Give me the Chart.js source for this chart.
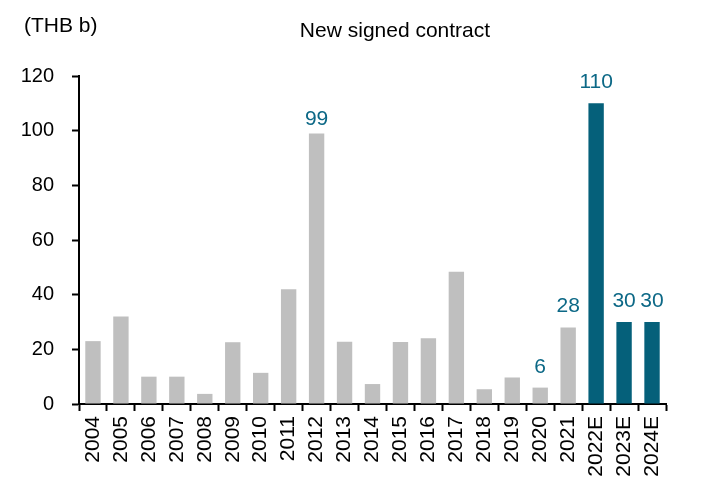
<!DOCTYPE html>
<html>
<head>
<meta charset="utf-8">
<script src="https://cdn.jsdelivr.net/npm/chart.js@4/dist/chart.umd.min.js"></script>
<style>
  html, body { margin: 0; padding: 0; background: #fff; }
  #wrap { width: 707px; height: 477px; }
</style>
</head>
<body>
<div id="wrap"><canvas id="grafico" width="707" height="477"></canvas></div>
<script>
// dados do gráfico
const anos = ['2004', '2005', '2006', '2007', '2008', '2009', '2010', '2011', '2012', '2013', '2014',
              '2015', '2016', '2017', '2018', '2019', '2020', '2021', '2022E', '2023E', '2024E'];
const contratos = [23, 32, 10, 10, 3.7, 22.6, 11.4, 42, 99, 22.8, 7.3,
                   22.7, 24.1, 48.4, 5.4, 9.7, 6, 28, 110, 30, 30];
const estimativa = [false, false, false, false, false, false, false, false, false, false, false,
                    false, false, false, false, false, false, false, true, true, true];
const mostrarRotulo = ['2012', '2020', '2021', '2022E', '2023E', '2024E'];
const ticksY = [0, 20, 40, 60, 80, 100, 120];

const FONTE = "'Liberation Sans', Arial, sans-serif";
const CINZA = '#bfbfbf';
const AZUL = '#05607a';
const AZUL_TEXTO = '#0c6886';

// rótulos de valor e textos fixos (título, unidade)
const pluginTextos = {
    id: 'textos',
    afterDatasetsDraw(chart) {
        const ctx = chart.ctx;
        const meta = chart.getDatasetMeta(0);
        ctx.save();
        ctx.font = '21px ' + FONTE;
        ctx.fillStyle = AZUL_TEXTO;
        ctx.textAlign = 'center';
        ctx.textBaseline = 'alphabetic';
        meta.data.forEach((bar, i) => {
            if (!mostrarRotulo.includes(anos[i])) return;
            const gap = anos[i] === '2012' ? 8 : 15;
            ctx.fillText(String(contratos[i]), bar.x, bar.y - gap);
        });

        ctx.fillStyle = '#000';
        ctx.textAlign = 'left';
        ctx.font = '21px ' + FONTE;
        ctx.fillText('(THB b)', 24, 32);
        ctx.textAlign = 'center';
        ctx.fillText('New signed contract', 395, 37);
        ctx.restore();
    }
};

const ctx = document.getElementById('grafico').getContext('2d');
new Chart(ctx, {
    type: 'bar',
    data: {
        labels: anos,
        datasets: [{
            data: contratos,
            backgroundColor: estimativa.map(e => e ? AZUL : CINZA),
            barPercentage: 0.55,
            categoryPercentage: 1.0
        }]
    },
    options: {
        responsive: false,
        animation: false,
        layout: { padding: { left: 0, right: 41, top: 76, bottom: 0 } },
        plugins: {
            legend: { display: false },
            tooltip: { enabled: false }
        },
        scales: {
            x: {
                afterFit: s => { s.height = 73; },
                grid: {
                    drawOnChartArea: false,
                    tickLength: 7,
                    tickWidth: 2,
                    tickColor: '#000',
                    offset: true
                },
                border: { color: '#000', width: 2 },
                ticks: {
                    color: '#000',
                    font: { family: FONTE, size: 21 },
                    minRotation: 90,
                    maxRotation: 90,
                    autoSkip: false,
                    padding: 5
                }
            },
            y: {
                min: 0,
                max: 120,
                afterFit: s => { s.width = 79; },
                afterBuildTicks: s => { s.ticks = ticksY.map(v => ({ value: v })); },
                grid: {
                    drawOnChartArea: false,
                    tickLength: 7,
                    tickWidth: 2,
                    tickColor: '#000'
                },
                border: { color: '#000', width: 2 },
                ticks: {
                    color: '#000',
                    font: { family: FONTE, size: 20 },
                    padding: 18
                }
            }
        }
    },
    plugins: [pluginTextos]
});
</script>
</body>
</html>
